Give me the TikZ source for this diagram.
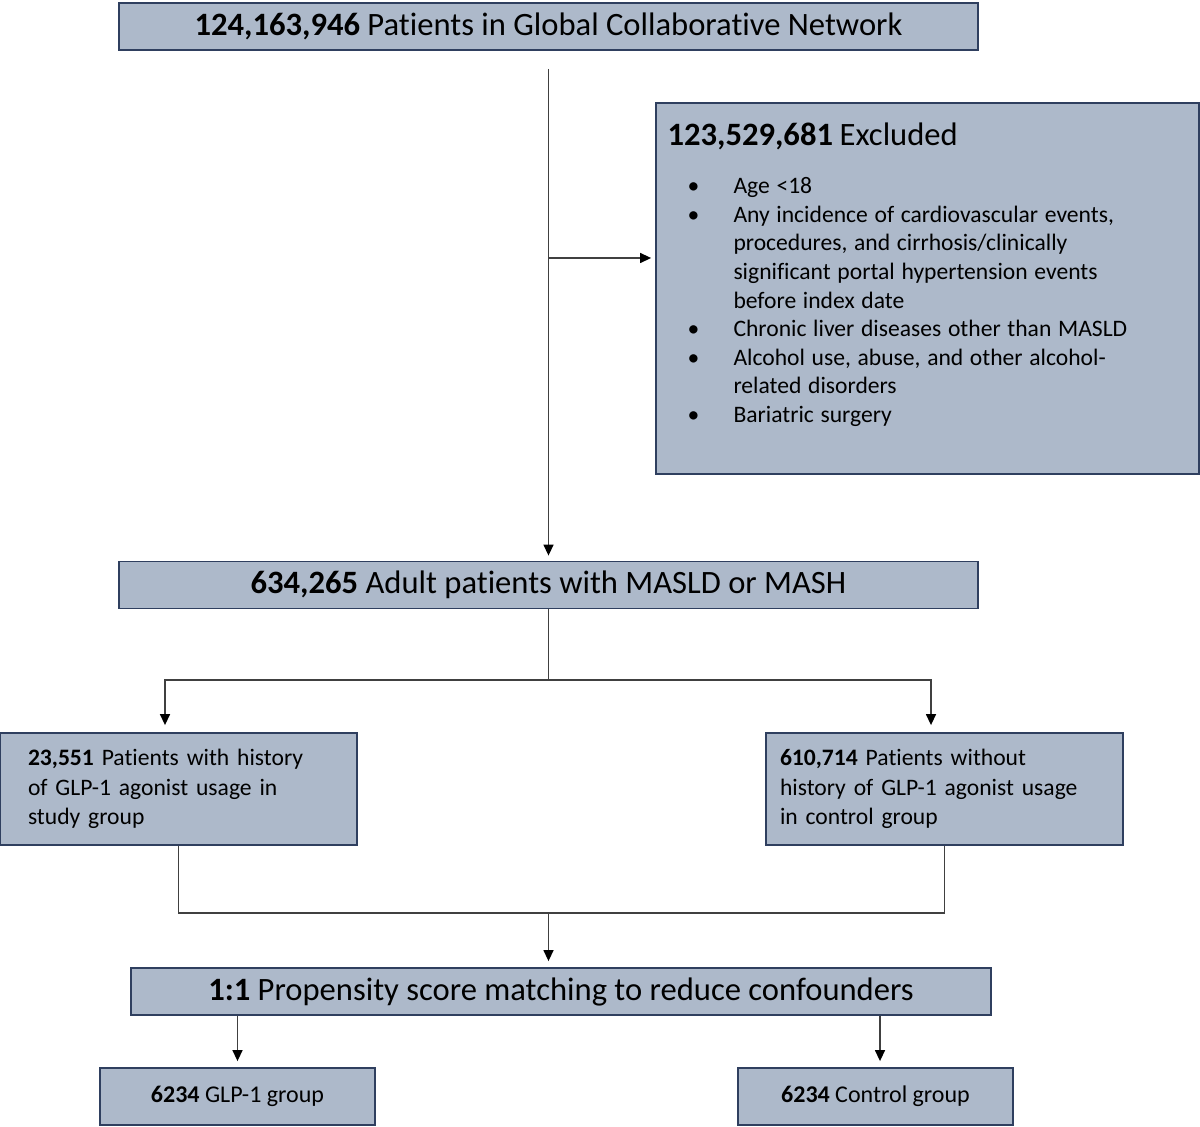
\documentclass[tikz,border=0pt]{standalone}
\usepackage{fontspec}
\setmainfont{Carlito}[Ligatures=NoCommon]
\usepackage{xcolor}
\definecolor{boxFill}{HTML}{ADB9CA}
\definecolor{boxEdge}{HTML}{2F3F5F}
\definecolor{lineGray}{HTML}{404040}
\usepackage{tikz}
\usetikzlibrary{arrows.meta, positioning, calc}
\newcommand{\bul}{\par\noindent\hangindent=33pt\hangafter=1\makebox[33pt][l]{\hspace{10pt}\textbullet}}

\begin{document}
\begin{tikzpicture}[
  x=0.5pt, y=-0.5pt,
  box/.style={draw=boxEdge, line width=0.9pt, fill=boxFill, inner sep=0pt},
  wide/.style={box, minimum width=429.5pt, minimum height=23.5pt, font=\fontsize{16.3}{19}\selectfont},
  group/.style={box, inner xsep=7pt, text width=164.5pt, minimum height=56pt, align=left, font=\fontsize{11.8}{14.7}\selectfont},
  final/.style={box, minimum width=137.5pt, minimum height=28.5pt, font=\fontsize{12}{14}\selectfont},
  line/.style={draw=lineGray, line width=0.7pt},
  arr/.style={line, -{Triangle[length=5.5pt, width=5pt, color=black]}, shorten >=3pt}
]
  \useasboundingbox (0,0) rectangle (1200,1127);

  % Row 1: whole network and exclusions
  \node[wide]                       at (548.5,26.5) (top)   {\textbf{124,163,946} Patients in Global Collaborative Network};
  \node[box, minimum width=271.5pt, minimum height=185.5pt] at (927.5,288.5) (excl) {};
  \node[anchor=north west, inner sep=0pt, text width=260pt, align=left] at ($(excl.north west)+(12,20)$) (excltxt) {%
    {\fontsize{16.3}{19}\selectfont\textbf{123,529,681} Excluded\par}
    \vspace{10pt}
    {\fontsize{11.8}{14.3}\selectfont
    \bul Age <18
    \bul Any incidence of cardiovascular events,\newline procedures, and cirrhosis/clinically\newline significant portal hypertension events\newline before index date
    \bul Chronic liver diseases other than MASLD
    \bul Alcohol use, abuse, and other alcohol-\newline related disorders
    \bul Bariatric surgery\par}};

  % Row 2: cohort and the two groups
  \node[wide]                       at (548.5,585)  (masld) {\textbf{634,265} Adult patients with MASLD or MASH};
  \node[group, inner xsep=14pt, text width=150.5pt] at (178.5,789) (study) {\textbf{23,551} Patients with history\\of GLP-1 agonist usage in\\study group};
  \node[group]                      at (944.5,789)  (ctrl)  {\textbf{610,714} Patients without\\history of GLP-1 agonist usage\\in control group};

  % Row 3: matching and matched groups
  \node[wide, minimum width=430pt]  at (561,991.5)  (psm)   {\textbf{1:1} Propensity score matching to reduce confounders};
  \node[final]                      at (237.5,1096.5) (glp) {\textbf{6234} GLP-1 group};
  \node[final]                      at (875.5,1096.5) (cgrp) {\textbf{6234} Control group};

  \coordinate (split) at (548.5,258);
  \coordinate (forkL) at (165,680);
  \coordinate (forkR) at (931,680);
  \coordinate (merge) at (548.5,913);

  \draw[arr, shorten <=9pt, shorten >=2.5pt] (top.south) -- (masld.north);
  \draw[arr, shorten >=2pt] (split) -- (split -| excl.west);
  \draw[arr, shorten >=3.5pt] (masld.south) |- (forkL) -- (forkL |- study.north);
  \draw[arr, shorten >=3.5pt] (masld.south) |- (forkR) -- (forkR |- ctrl.north);
  \draw[line] (study.south) |- (merge) -| (ctrl.south);
  \draw[arr] (merge) -- (merge |- psm.north);
  \draw[arr] (psm.south -| glp.north) -- (glp.north);
  \draw[arr] ($(psm.south -| cgrp.north)+(4.5,0)$) -- ($(cgrp.north)+(4.5,0)$);
\end{tikzpicture}
\end{document}
